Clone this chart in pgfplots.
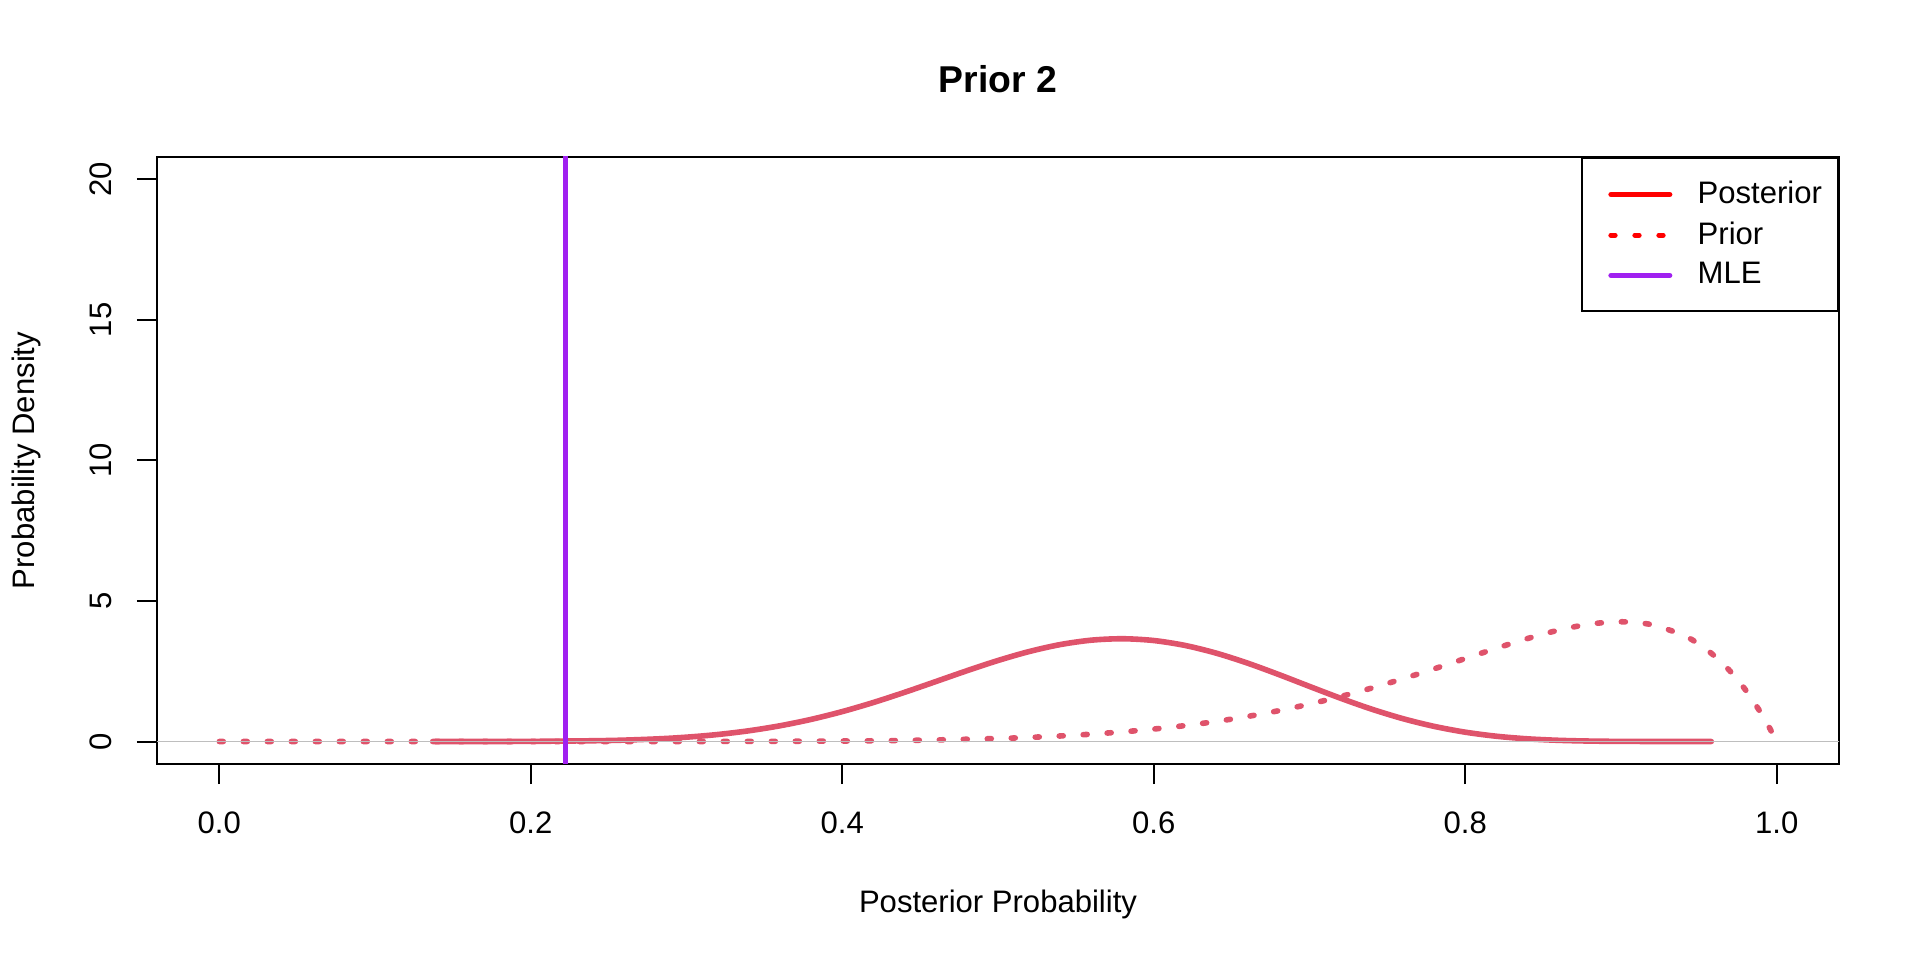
\documentclass[border=0pt]{standalone}
\usepackage{fontspec}
\setmainfont{Liberation Sans}
\usepackage{pgfplots}
\pgfplotsset{compat=1.18}
\definecolor{curvecol}{HTML}{DF536B}
\definecolor{mlecol}{HTML}{A020F0}
\definecolor{hcol}{HTML}{BEBEBE}
\begin{document}
\fontsize{23.3}{28}\selectfont
\begin{tikzpicture}
\path[use as bounding box] (0,0) rectangle (1440pt,720pt);
\begin{axis}[
  at={(117.75pt,147pt)}, anchor=south west,
  scale only axis, width=1261.5pt, height=455.25pt,
  xmin=-0.04, xmax=1.04, ymin=-0.8, ymax=20.8,
  axis line style={line width=1.5pt},
  every tick/.style={line width=1.5pt, black},
  tick align=outside, major tick length=15pt,
  xtick pos=bottom, ytick pos=left,
  xtick={0,0.2,0.4,0.6,0.8,1}, xticklabels={0.0,0.2,0.4,0.6,0.8,1.0},
  ytick={0,5,10,15,20}, yticklabels={0,5,10,15,20},
  ticklabel style={font=\fontsize{23.3}{28}\selectfont, inner sep=0pt},
  xticklabel style={anchor=base, yshift=-36.75pt},
  yticklabel style={rotate=90, anchor=base, yshift=18.75pt},
  title={Prior 2},
  title style={at={(axis description cs:0.5,1)}, anchor=base, yshift=42pt, inner sep=0pt, font=\bfseries\fontsize{28}{34}\selectfont},
  xlabel={Posterior Probability},
  xlabel style={at={(axis description cs:0.5,0)}, anchor=base, yshift=-111pt, inner sep=0pt, font=\fontsize{23.3}{28}\selectfont},
  ylabel={Probability Density},
  ylabel style={at={(axis description cs:0,0.5)}, anchor=base, yshift=92.25pt, inner sep=0pt, font=\fontsize{23.3}{28}\selectfont},
  legend image code/.code={\path[draw=none] (0pt,0pt) rectangle (75pt,0pt); \draw[#1, line cap=round] (10pt,0pt) -- (54pt,0pt);},
  legend style={at={(1,1)}, anchor=north east, draw=black, line width=1.5pt, fill=white,
    inner xsep=12pt, inner ysep=17.2pt, row sep=10.15pt, column sep=0pt,
    nodes={inner sep=0pt}, font=\fontsize{23.3}{28}\selectfont},
  legend cell align=left,
]
\addlegendimage{red, line width=4pt}
\addlegendentry{Posterior}
\addlegendimage{red, line width=4pt, dash pattern=on 3pt off 15pt}
\addlegendentry{Prior}
\addlegendimage{mlecol, line width=4pt}
\addlegendentry{MLE}

\addplot[forget plot, curvecol, line width=4.2pt, line join=round, line cap=round, smooth] coordinates {
(0.137,0.0001) (0.16,0.0007) (0.2,0.0052) (0.25,0.0361) (0.28,0.0905) (0.30,0.1544)
(0.32,0.2490) (0.34,0.3820) (0.36,0.5600) (0.38,0.7874) (0.40,1.0649) (0.42,1.3888)
(0.44,1.7496) (0.46,2.1326) (0.48,2.5183) (0.50,2.8830) (0.52,3.2018) (0.54,3.4500)
(0.56,3.6068) (0.58,3.6570) (0.60,3.5939) (0.62,3.4199) (0.64,3.1465) (0.66,2.7940)
(0.68,2.3893) (0.70,1.9612) (0.72,1.5394) (0.74,1.1502) (0.76,0.8129) (0.78,0.5393)
(0.80,0.3324) (0.82,0.1877) (0.84,0.0954) (0.86,0.0425) (0.88,0.0159) (0.90,0.0047)
(0.93,0.0005) (0.958,0.0000)
};
\addplot[forget plot, curvecol, line width=4.2pt, line join=round, line cap=round, dash pattern=on 3pt off 15pt, smooth] coordinates {
(0,0) (0.1,0) (0.2,0.0000) (0.3,0.0015) (0.35,0.0056) (0.40,0.0173) (0.45,0.0458)
(0.50,0.1074) (0.52,0.1468) (0.54,0.1976) (0.56,0.2621) (0.58,0.3432) (0.60,0.4434)
(0.62,0.5659) (0.64,0.7134) (0.66,0.8887) (0.68,1.0943) (0.70,1.3317) (0.72,1.6016)
(0.74,1.9030) (0.76,2.2332) (0.78,2.5862) (0.80,2.9528) (0.82,3.3189) (0.84,3.6647)
(0.86,3.9629) (0.88,4.1775) (0.90,4.2616) (0.92,4.1550) (0.94,3.7817) (0.95,3.4664)
(0.96,3.0471) (0.97,2.5088) (0.98,1.8342) (0.99,1.0049) (0.995,0.5257) (1.00,0)
};
\addplot[forget plot, hcol, line width=1pt] coordinates {(-0.1,0) (1.1,0)};
\addplot[forget plot, mlecol, line width=3.75pt] coordinates {(0.2222,-5) (0.2222,25)};
\end{axis}
\end{tikzpicture}
\end{document}
